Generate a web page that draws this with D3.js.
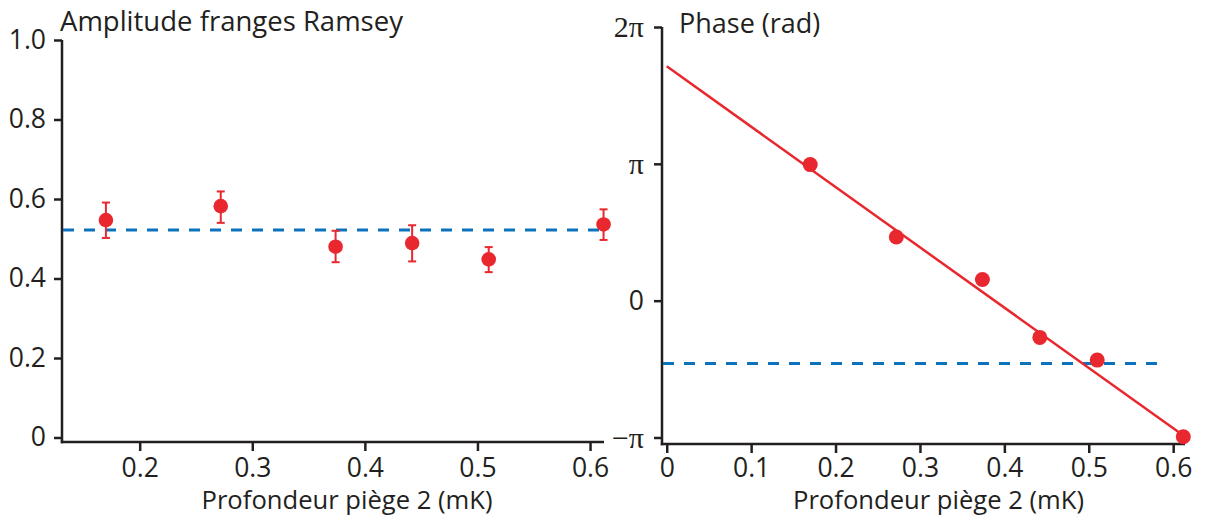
<!DOCTYPE html>
<html>
<head>
<meta charset="utf-8">
<script src="https://cdn.jsdelivr.net/npm/d3@7"></script>
<style>
  html, body { margin: 0; padding: 0; background: #fff; }
  svg { display: block; }
  text { fill: #231f20; font-family: "Open Sans", sans-serif; }
</style>
</head>
<body>
<svg id="chart" width="1207" height="516"></svg>
<script>
// ---------- data ----------
const depth = [0.170, 0.272, 0.374, 0.442, 0.510, 0.612];          // mK
const amplitude = [0.547, 0.582, 0.480, 0.489, 0.448, 0.536];
const ampErrLow = [0.502, 0.540, 0.441, 0.443, 0.416, 0.497];
const ampErrHigh = [0.591, 0.619, 0.520, 0.534, 0.479, 0.574];
const ampMean = 0.522;
const phase = [3.124, 1.463, 0.486, -0.844, -1.365, -3.124];      // rad
const phaseRef = -1.44;
const fitX = [0, 0.608];
const fitY = [5.38, -3.04];
const ampTicks = [0, 0.2, 0.4, 0.6, 0.8, 1.0];
const ampTickLabels = ["0", "0.2", "0.4", "0.6", "0.8", "1.0"];
const ampXTicks = [0.2, 0.3, 0.4, 0.5, 0.6];
const ampXTickLabels = ["0.2", "0.3", "0.4", "0.5", "0.6"];
const phaseTicks = [-Math.PI, 0, Math.PI, 2 * Math.PI];
const phaseTickLabels = ["\u2212\u03C0", "0", "\u03C0", "2\u03C0"];
const phaseXTicks = [0, 0.1, 0.2, 0.3, 0.4, 0.5, 0.6];
const phaseXTickLabels = ["0", "0.1", "0.2", "0.3", "0.4", "0.5", "0.6"];
const titleLeft = "Amplitude franges Ramsey";
const titleRight = "Phase (rad)";
const xTitle = "Profondeur pi\u00E8ge 2 (mK)";

// ---------- styles ----------
const RED = "#e8282e", BLUE = "#0b72bd", AX = "#231f20";
const TICK_FS = 26.5;
const svg = d3.select("#chart");

function styleAxis(g, fontSize, family) {
  g.select(".domain").remove();
  g.selectAll(".tick line").attr("stroke", AX).attr("stroke-width", 2.5);
  g.selectAll(".tick text").attr("fill", AX)
    .style("font-size", fontSize + "px")
    .style("font-family", family || "'Open Sans', sans-serif");
}

// ---------- left panel ----------
const xL = d3.scaleLinear().domain([0.131, 0.6124]).range([62, 604]);
const yL = d3.scaleLinear().domain([0, 1]).range([437.5, 40]);
const xAxisYL = 442;

const gL = svg.append("g");
gL.append("line").attr("x1", xL.range()[0]).attr("x2", xL.range()[0])
  .attr("y1", yL(1)).attr("y2", xAxisYL + 1.25)
  .attr("stroke", AX).attr("stroke-width", 2.5);
gL.append("line").attr("x1", xL.range()[0] - 1.25).attr("x2", xL.range()[1])
  .attr("y1", xAxisYL).attr("y2", xAxisYL)
  .attr("stroke", AX).attr("stroke-width", 2.5);

gL.append("g").attr("transform", `translate(${xL.range()[0]},0)`)
  .call(d3.axisLeft(yL).tickValues(ampTicks).tickSize(8).tickPadding(8)
    .tickFormat((d, i) => ampTickLabels[i]))
  .call(g => styleAxis(g, TICK_FS));

gL.append("g").attr("transform", `translate(0,${xAxisYL})`)
  .call(d3.axisBottom(xL).tickValues(ampXTicks).tickSize(9).tickPadding(7)
    .tickFormat((d, i) => ampXTickLabels[i]))
  .call(g => styleAxis(g, TICK_FS));

gL.append("line")
  .attr("x1", xL.range()[0] + 1).attr("x2", xL(0.612))
  .attr("y1", yL(ampMean)).attr("y2", yL(ampMean))
  .attr("stroke", BLUE).attr("stroke-width", 3).attr("stroke-dasharray", "11,10");

const ampData = depth.map((d, i) => ({x: d, y: amplitude[i], lo: ampErrLow[i], hi: ampErrHigh[i]}));
const eb = gL.append("g").attr("stroke", RED).attr("stroke-width", 2);
eb.selectAll("line.v").data(ampData).join("line")
  .attr("x1", d => xL(d.x)).attr("x2", d => xL(d.x))
  .attr("y1", d => yL(d.lo)).attr("y2", d => yL(d.hi));
eb.selectAll("line.t").data(ampData).join("line")
  .attr("x1", d => xL(d.x) - 4).attr("x2", d => xL(d.x) + 4)
  .attr("y1", d => yL(d.hi)).attr("y2", d => yL(d.hi));
eb.selectAll("line.b").data(ampData).join("line")
  .attr("x1", d => xL(d.x) - 4).attr("x2", d => xL(d.x) + 4)
  .attr("y1", d => yL(d.lo)).attr("y2", d => yL(d.lo));
gL.append("g").selectAll("circle").data(ampData).join("circle")
  .attr("cx", d => xL(d.x)).attr("cy", d => yL(d.y)).attr("r", 7.3).attr("fill", RED);

gL.append("text").attr("x", 60).attr("y", 31).style("font-size", "27.5px").text(titleLeft);
gL.append("text").attr("x", (xL.range()[0] + xL.range()[1]) / 2 + 14).attr("y", 509)
  .attr("text-anchor", "middle").style("font-size", "25.6px").text(xTitle);

// ---------- right panel ----------
const xR = d3.scaleLinear().domain([-0.0056, 0.614]).range([662, 1185]);
const yR = d3.scaleLinear().domain([-Math.PI, 2 * Math.PI]).range([437.5, 27]);
const xAxisYR = 444;

const gR = svg.append("g");
gR.append("line").attr("x1", xR.range()[0]).attr("x2", xR.range()[0])
  .attr("y1", yR(2 * Math.PI)).attr("y2", xAxisYR + 1.25)
  .attr("stroke", AX).attr("stroke-width", 2.5);
gR.append("line").attr("x1", xR.range()[0] - 1.25).attr("x2", xR.range()[1])
  .attr("y1", xAxisYR).attr("y2", xAxisYR)
  .attr("stroke", AX).attr("stroke-width", 2.5);

gR.append("g").attr("transform", `translate(${xR.range()[0]},0)`)
  .call(d3.axisLeft(yR).tickValues(phaseTicks).tickSize(8).tickPadding(10)
    .tickFormat((d, i) => phaseTickLabels[i]))
  .call(g => styleAxis(g, 30, "'Liberation Serif', serif"))
  .call(g => g.selectAll(".tick text").filter((d, i) => phaseTickLabels[i] === "0")
    .style("font-family", "'Open Sans', sans-serif").style("font-size", TICK_FS + "px"));

gR.append("g").attr("transform", `translate(0,${xAxisYR})`)
  .call(d3.axisBottom(xR).tickValues(phaseXTicks).tickSize(9).tickPadding(5)
    .tickFormat((d, i) => phaseXTickLabels[i]))
  .call(g => styleAxis(g, TICK_FS));

gR.append("line")
  .attr("x1", xR.range()[0] + 1).attr("x2", xR(0.592))
  .attr("y1", yR(phaseRef)).attr("y2", yR(phaseRef))
  .attr("stroke", BLUE).attr("stroke-width", 3).attr("stroke-dasharray", "11,10");

gR.append("path")
  .datum(fitX.map((x, i) => [x, fitY[i]]))
  .attr("d", d3.line().x(d => xR(d[0])).y(d => yR(d[1])))
  .attr("fill", "none").attr("stroke", RED).attr("stroke-width", 2.5);

gR.append("g").selectAll("circle").data(depth.map((d, i) => ({x: d, y: phase[i]}))).join("circle")
  .attr("cx", d => xR(d.x)).attr("cy", d => yR(d.y)).attr("r", 7.5).attr("fill", RED);

gR.append("text").attr("x", 679).attr("y", 33).style("font-size", "27px").text(titleRight);
gR.append("text").attr("x", (xR.range()[0] + xR.range()[1]) / 2 + 15).attr("y", 509)
  .attr("text-anchor", "middle").style("font-size", "25.6px").text(xTitle);
</script>
</body>
</html>
